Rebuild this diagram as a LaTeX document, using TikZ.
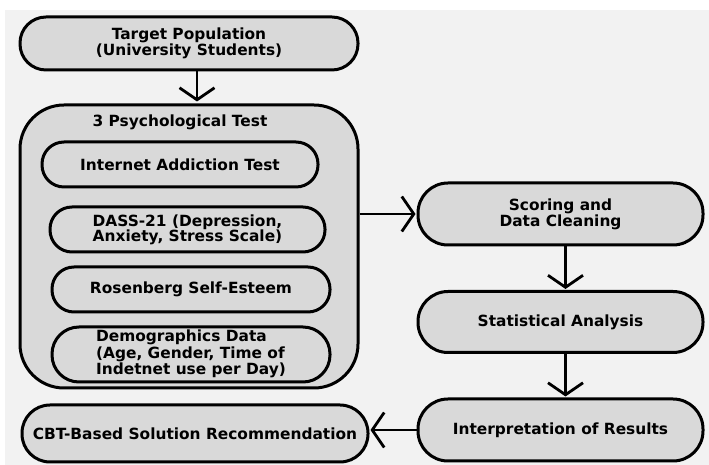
\documentclass[tikz,border=0pt]{standalone}
\usepackage{fontspec}
\setmainfont{DejaVu Sans}
\usepackage{tikz}
\usetikzlibrary{arrows.meta}
\definecolor{pagegrey}{HTML}{F2F2F2}
\definecolor{boxgrey}{HTML}{D9D9D9}
\tikzstyle{stadium} = [ rectangle, rounded corners = 22pt, %
                        text centered, align = center, draw = black, %
                        line width = 3pt, fill = boxgrey, inner sep = 0pt, %
                        font = \fontsize{15.4}{15}\selectfont\bfseries ]
\tikzstyle{groupbox} = [ rectangle, rounded corners = 44pt, draw = black, %
                         line width = 3pt, fill = boxgrey ]
\tikzstyle{arrow} = [line width = 2.8pt, -{Straight Barb[length=12pt,width=35pt,line width=2.8pt]}]

\begin{document}
\begin{tikzpicture}[x=1pt, y=1pt, node distance = 108pt]
      % Page
      \fill [white] (0,0) rectangle (709,465);
      \fill [pagegrey] (5,0) rectangle (709,455);
      % Left column
      \node (pop) [stadium, minimum width = 338pt, minimum height = 53pt, %
        rounded corners = 26pt] at (189,421.5) %
        {Target Population\\(University Students)};
      \node (tests) [groupbox, minimum width = 338pt, minimum height = 283pt] %
        at (189,218.5) {};
      \node (title) [font = \fontsize{15.4}{15}\selectfont\bfseries] %
        at (180,343) {3 Psychological Test};
      \node (iat) [stadium, minimum width = 276pt, minimum height = 45pt] %
        at (180,300.5) {Internet Addiction Test};
      \node (dass) [stadium, minimum width = 275pt, minimum height = 45pt] %
        at (187.5,235.5) {DASS-21 (Depression,\\Anxiety, Stress Scale)};
      \node (rse) [stadium, minimum width = 278pt, minimum height = 45pt] %
        at (191,175.5) {Rosenberg Self-Esteem};
      \node (demo) [stadium, minimum width = 278pt, minimum height = 55pt, %
        rounded corners = 27pt] at (191,110.5) %
        {\begin{tabular}{@{}l@{}}Demographics Data\\(Age, Gender, Time of\\%
         Indetnet use per Day)\end{tabular}};
      \node (cbt) [stadium, minimum width = 346pt, minimum height = 57pt, %
        rounded corners = 28pt] at (195,31.5) %
        {CBT-Based Solution Recommendation};
      % Right column
      \node (score) [stadium, minimum width = 285pt, minimum height = 62pt, %
        rounded corners = 30pt] at (560.5,251) {Scoring and\\Data Cleaning};
      \node (stats) [stadium, minimum width = 285pt, minimum height = 61pt, %
        rounded corners = 30pt, below of = score] {Statistical Analysis};
      \node (interp) [stadium, minimum width = 285pt, minimum height = 62pt, %
        rounded corners = 30pt, below of = stats] {Interpretation of Results};
      % Arrows
      \draw [arrow] ([xshift=8pt]pop.south) -- ([xshift=8pt,yshift=2pt]tests.north);
      \draw [arrow] (tests.east |- score.west) -- ([xshift=-1pt]score.west);
      \draw [arrow] ([xshift=5pt]score.south) -- ([xshift=5pt,yshift=1pt]stats.north);
      \draw [arrow] ([xshift=5pt]stats.south) -- ([xshift=5pt,yshift=1pt]interp.north);
      \draw [arrow] (interp.west) -- ([xshift=1pt]interp.west -| cbt.east);
    \end{tikzpicture}
\end{document}
